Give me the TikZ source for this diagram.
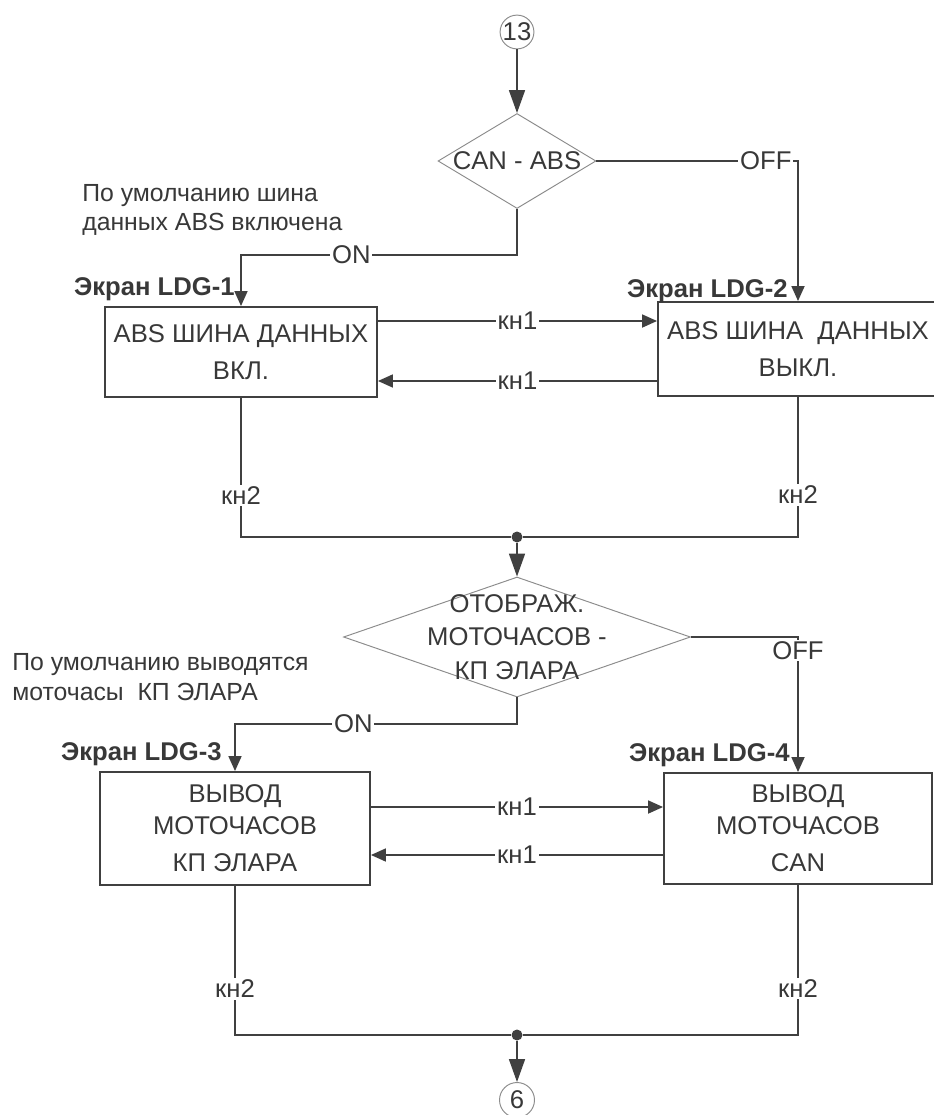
\documentclass[tikz,border=0pt]{standalone}
\usepackage{fontspec}
\setmainfont{Liberation Sans}
\usetikzlibrary{arrows.meta,shapes.geometric}
\definecolor{txtgray}{HTML}{383838}
\definecolor{linegray}{HTML}{404040}
\definecolor{diagray}{HTML}{8C8C8C}

\begin{document}
\begin{tikzpicture}[
  x=0.02cm, y=-0.02cm,
  every node/.style={text=txtgray, font=\fontsize{14.6}{17}\selectfont},
  screen/.style={rectangle, draw=linegray, line width=1.1pt, align=center, inner sep=0pt},
  decision/.style={diamond, draw=diagray, line width=0.55pt, inner sep=0pt},
  conn/.style={circle, draw=diagray, line width=0.55pt, inner sep=0pt},
  title/.style={anchor=east, inner sep=0pt, font=\bfseries\fontsize{14.6}{17}\selectfont},
  note/.style={anchor=west, align=left, inner sep=0pt, font=\fontsize{14.1}{17}\selectfont},
  tag/.style={fill=white, inner sep=1pt},
  dot/.style={circle, fill=linegray, minimum size=0.22cm, inner sep=0pt},
  flow/.style={draw=linegray, line width=1pt},
  arr/.style={flow, -{Triangle[length=0.3cm, width=0.26cm]}},
  bigarr/.style={flow, -{Triangle[length=0.46cm, width=0.32cm]}}
]
  \useasboundingbox (0,0) rectangle (933,1115);

  \node[conn, minimum size=0.66cm] (c13) at (517,32) {13};
  \node[decision, minimum width=3.16cm, minimum height=1.9cm] (d1) at (517,161) {};
  \node (d1t) at (d1) {CAN - ABS};
  \node[note] (n1) at (82,210) {По умолчанию шина\\данных ABS включена};

  \node[screen, minimum width=5.44cm, minimum height=1.8cm,
        font=\fontsize{14.6}{21}\selectfont] (s1) at (241,352) {ABS ШИНА ДАННЫХ\\ВКЛ.};
  \node[screen, minimum width=5.6cm, minimum height=1.88cm,
        font=\fontsize{14.6}{21}\selectfont] (s2) at (798,349) {ABS ШИНА~~ДАННЫХ\\ВЫКЛ.};
  \node[title] (t1) at (235,289) {Экран LDG-1};
  \node[title] (t2) at (788,291) {Экран LDG-2};

  \node[dot] (j1) at (517,537) {};
  \node[decision, minimum width=6.94cm, minimum height=2.4cm] (d2) at (517,637) {};
  \node[align=center, font=\fontsize{14.6}{19}\selectfont] (d2t) at (d2) {ОТОБРАЖ.\\МОТОЧАСОВ -\\КП ЭЛАРА};
  \node[note] (n2) at (12,677) {По умолчанию выводятся\\моточасы~~КП ЭЛАРА};

  \node[screen, minimum width=5.4cm, minimum height=2.26cm,
        font=\fontsize{14.6}{18.2}\selectfont] (s3) at (235,828.5) {ВЫВОД\\МОТОЧАСОВ\\[2.8pt]КП ЭЛАРА};
  \node[screen, minimum width=5.36cm, minimum height=2.22cm,
        font=\fontsize{14.6}{18.2}\selectfont] (s4) at (798,828.5) {ВЫВОД\\МОТОЧАСОВ\\[2.8pt]CAN};
  \node[title] (t3) at (222,754) {Экран LDG-3};
  \node[title] (t4) at (790,755) {Экран LDG-4};

  \node[dot] (j2) at (517,1035) {};
  \node[conn, minimum size=0.7cm] (c6) at (517,1100) {6};

  \coordinate (off1) at (798,161);
  \coordinate (on1) at (241,255);
  \coordinate (off2) at (798,637);
  \coordinate (on2) at (235,724);
  \coordinate (k1a) at ([yshift=0.62cm]s1.east);
  \coordinate (k1b) at ([yshift=-0.58cm]s1.east);
  \coordinate (k3a) at ([yshift=0.43cm]s3.east);
  \coordinate (k3b) at ([yshift=-0.53cm]s3.east);

  \draw[bigarr] (c13) -- (d1.north);
  \draw[arr] (d1.east) -- node[tag, pos=0.84] (offa) {OFF} (off1) -- (s2.north);
  \draw[arr] (d1.south) |- node[tag, pos=0.80] (ona) {ON} (on1) -- (s1.north);
  \draw[arr] (k1a) -- node[tag] (k1at) {кн1} (k1a -| s2.west);
  \draw[arr] (k1b -| s2.west) -- node[tag] (k1bt) {кн1} (k1b);
  \draw[flow] (s1.south) -- node[tag, pos=0.7] (k2a) {кн2} (s1.south |- j1) -- (j1);
  \draw[flow] (s2.south) -- node[tag, pos=0.7] (k2b) {кн2} (s2.south |- j1) -- (j1);

  \draw[bigarr] (j1) -- (d2.north);
  \draw[arr] (d2.east) -- (off2) -- node[tag, pos=0.1] (offb) {OFF} (s4.north);
  \draw[arr] (d2.south) |- node[tag, pos=0.79] (onb) {ON} (on2) -- (s3.north);
  \draw[arr] (k3a) -- node[tag] (k3at) {кн1} (k3a -| s4.west);
  \draw[arr] (k3b -| s4.west) -- node[tag] (k3bt) {кн1} (k3b);
  \draw[flow] (s3.south) -- node[tag, pos=0.69] (k4a) {кн2} (s3.south |- j2) -- (j2);
  \draw[flow] (s4.south) -- node[tag, pos=0.69] (k4b) {кн2} (s4.south |- j2) -- (j2);
  \draw[bigarr] (j2) -- (c6);
\end{tikzpicture}
\end{document}
